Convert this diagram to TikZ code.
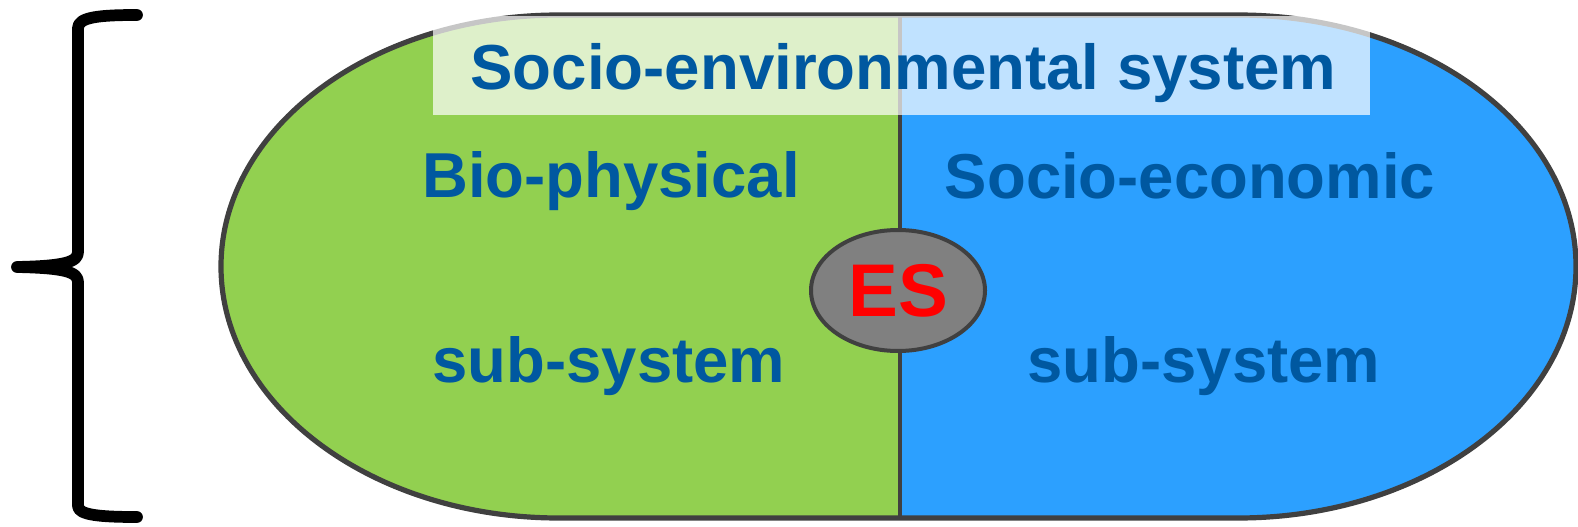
\documentclass[tikz,border=0pt]{standalone}
\usepackage{fontspec}
\setmainfont{Liberation Sans}
\definecolor{bgreen}{HTML}{92D050}
\definecolor{bblue}{HTML}{2CA0FF}
\definecolor{tblue}{HTML}{0058A0}
\definecolor{edge}{HTML}{404040}
\definecolor{esgray}{HTML}{808080}
\tikzset{
  lbl/.style={anchor=base, inner sep=0pt, text=tblue, font=\bfseries\fontsize{47.6}{56}\selectfont},
  outline/.style={draw=edge, line width=3.9pt},
}
\begin{document}
\begin{tikzpicture}[x=0.75pt,y=0.75pt]
\useasboundingbox (0,0) rectangle (1578,526);
% halves
\fill[bgreen] (900,511) -- (559,511) arc[start angle=90,end angle=270,x radius=338,y radius=251.5] -- (900,8) -- cycle;
\fill[bblue] (900,8) -- (1238,8) arc[start angle=-90,end angle=90,x radius=338,y radius=251.5] -- (900,511) -- cycle;
% divider
\coordinate (dtop) at (900,511);
\coordinate (dbot) at (900,8);
\draw[draw=edge, line width=3pt] (dtop) -- (dbot);
% outline
\draw[outline] (559,511) -- (1238,511) arc[start angle=90,end angle=-90,x radius=338,y radius=251.5] -- (559,8) arc[start angle=270,end angle=90,x radius=338,y radius=251.5] -- cycle;
% title box
\fill[white, opacity=0.7] (433,411) rectangle (1370,510);
\node[lbl, font=\bfseries\fontsize{47.7}{56}\selectfont] (title) at (903.5,436) {Socio-environmental system};
% labels
\node[lbl] (bio) at (611,329) {Bio-physical};
\node[lbl] (subl) at (609,144) {sub-system};
\node[lbl] (soc) at (1190,328) {Socio-economic};
\node[lbl] (subr) at (1204,144) {sub-system};
% ES
\draw[draw=edge, fill=esgray, line width=3pt] (898,235.5) ellipse[x radius=87, y radius=60.5];
\node[anchor=base, inner sep=0pt, text=red, font=\bfseries\fontsize{56}{64}\selectfont] (es) at (898.5,210) {ES};
% brace
\draw[line width=8.8pt, line cap=round, line join=round] (137,511) .. controls (100,511) and (78,509) .. (78,498) -- (78,274) .. controls (78,264) and (65,260) .. (17,259) .. controls (65,258) and (78,254) .. (78,244) -- (78,20) .. controls (78,11) and (100,9) .. (137,9);
\end{tikzpicture}
\end{document}
